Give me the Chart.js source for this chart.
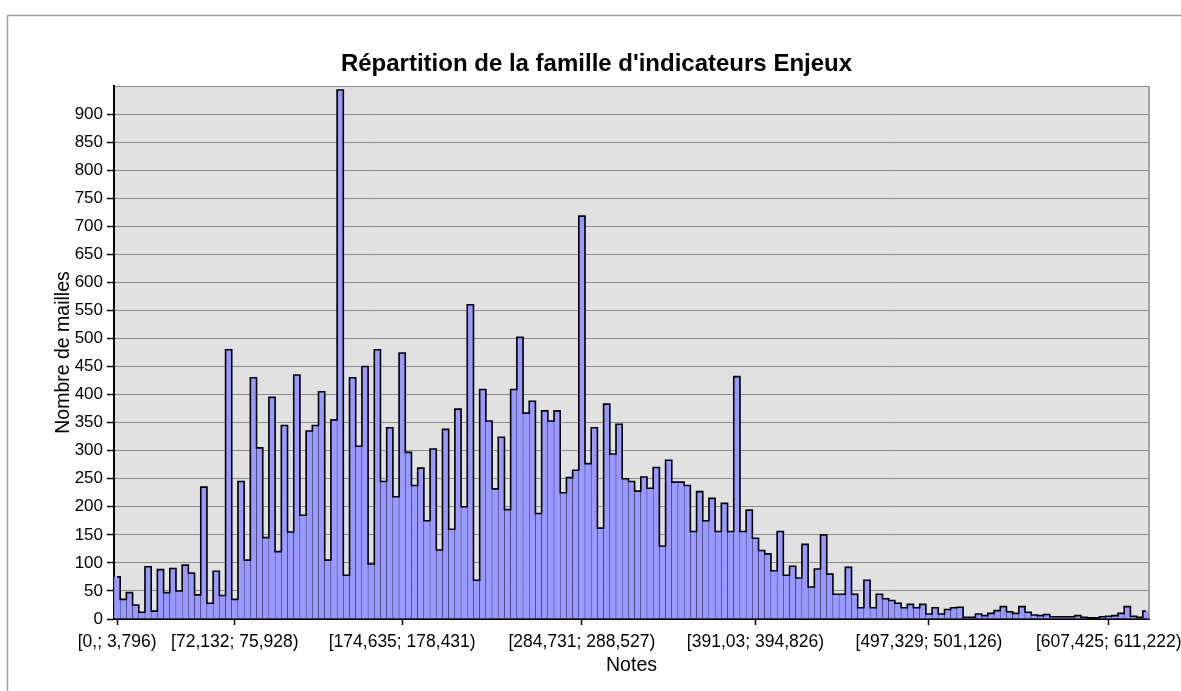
<!DOCTYPE html>
<html lang="fr">
<head>
<meta charset="utf-8">
<title>Répartition de la famille d'indicateurs Enjeux</title>
<script src="https://cdn.jsdelivr.net/npm/chart.js@4/dist/chart.umd.min.js"></script>
<style>
  html, body { margin: 0; padding: 0; background: #fff; }
  #wrap { width: 1181px; height: 691px; }
</style>
</head>
<body>
<div id="wrap"><canvas id="histo" width="1181" height="691"></canvas></div>
<script>
// --- histogramme : nombre de mailles par classe de notes ---

// 167 classes de largeur ~3,796 ; seules quelques étiquettes sont affichées
const tickIndex = [0, 19, 46, 75, 103, 131, 160];
const tickLabels = [
    '[0,; 3,796)', '[72,132; 75,928)', '[174,635; 178,431)', '[284,731; 288,527)',
    '[391,03; 394,826)', '[497,329; 501,126)', '[607,425; 611,222)'
];

// effectifs (une valeur par classe)
const counts = [
    75, 35, 47, 25, 12, 93, 14, 88, 47, 90,
    50, 96, 82, 43, 235, 28, 85, 42, 480, 35,
    245, 105, 430, 305, 145, 395, 120, 345, 155, 435,
    185, 335, 345, 405, 105, 355, 943, 78, 430, 308,
    450, 98, 480, 245, 341, 218, 474, 297, 238, 269,
    175, 303, 123, 338, 160, 374, 200, 560, 69, 409,
    353, 232, 324, 195, 409, 502, 367, 388, 188, 371,
    353, 371, 225, 252, 265, 718, 277, 341, 162, 383,
    294, 347, 250, 245, 228, 253, 233, 270, 130, 283,
    244, 244, 238, 156, 227, 175, 215, 156, 206, 156,
    432, 156, 194, 144, 122, 116, 86, 156, 78, 94,
    73, 133, 57, 89, 150, 80, 44, 44, 92, 44,
    20, 69, 20, 44, 36, 33, 28, 20, 26, 20,
    26, 9, 20, 9, 17, 20, 21, 3, 3, 9,
    6, 10, 15, 22, 13, 10, 22, 12, 7, 6,
    8, 4, 4, 4, 4, 6, 3, 2, 2, 4,
    5, 6, 10, 22, 5, 3, 14
];

// étiquettes de l'axe x : vide sauf aux classes repérées
const categories = counts.map((_, i) => {
    const k = tickIndex.indexOf(i);
    return k >= 0 ? tickLabels[k] : '';
});

Chart.defaults.font.family = '"Liberation Sans", Arial, sans-serif';
Chart.defaults.color = '#000';

// fond gris de la zone de tracé + cadre du graphique
const fondPlot = {
    id: 'fondPlot',
    beforeDraw(chart) {
        const { ctx, chartArea: a } = chart;
        ctx.save();
        ctx.fillStyle = '#fff';
        ctx.fillRect(0, 0, chart.width, chart.height);
        ctx.strokeStyle = '#a0a0a0';
        ctx.lineWidth = 1.5;
        ctx.beginPath();
        ctx.moveTo(7.5, chart.height);
        ctx.lineTo(7.5, 15.5);
        ctx.lineTo(chart.width, 15.5);
        ctx.stroke();
        ctx.fillStyle = '#e1e1e1';
        ctx.fillRect(a.left, a.top, a.right - a.left, a.bottom - a.top);
        ctx.restore();
    },
    afterDraw(chart) {
        const { ctx, chartArea: a } = chart;
        ctx.save();
        ctx.strokeStyle = '#8a8a8a';
        ctx.lineWidth = 1.5;
        ctx.beginPath();
        ctx.moveTo(a.right, a.top);
        ctx.lineTo(a.right, a.bottom);
        ctx.stroke();
        ctx.restore();
    }
};

const ctx = document.getElementById('histo').getContext('2d');
new Chart(ctx, {
    type: 'bar',
    data: {
        labels: categories,
        datasets: [
            {
                // contour en escalier des barres
                type: 'line',
                data: counts,
                stepped: 'middle',
                borderColor: '#000',
                borderWidth: 1.6,
                pointRadius: 0,
                fill: false,
                order: 0
            },
            {
                type: 'bar',
                label: 'Nombre de mailles',
                data: counts,
                backgroundColor: '#9999ff',
                borderColor: '#1c1c3a',
                borderWidth: { left: 0.5, right: 0.5, top: 0, bottom: 0 },
                barPercentage: 1,
                categoryPercentage: 1,
                order: 1
            }
        ]
    },
    options: {
        responsive: false,
        animation: false,
        devicePixelRatio: 1,
        layout: { padding: { left: 12, right: 0, top: 0, bottom: 0 } },
        plugins: {
            legend: { display: false },
            tooltip: { enabled: false },
            title: {
                display: true,
                text: "Répartition de la famille d'indicateurs Enjeux",
                color: '#000',
                font: { size: 24, weight: 'bold' },
                padding: { top: 50, bottom: 7.2 }
            }
        },
        scales: {
            x: {
                offset: true,
                grid: {
                    offset: false,
                    drawOnChartArea: false,
                    tickLength: 6,
                    tickWidth: 1.5,
                    tickColor: c => tickIndex.includes(c.index) ? '#000' : 'rgba(0,0,0,0)'
                },
                border: { color: '#000', width: 2 },
                ticks: {
                    autoSkip: false, maxRotation: 0, minRotation: 0,
                    padding: 7, color: '#000', font: { size: 17.5 }
                },
                title: {
                    display: true, text: 'Notes', color: '#000',
                    font: { size: 19.5 }, padding: { top: 0, bottom: 14 }
                },
                afterFit: s => { s.height = 72; }
            },
            y: {
                min: 0,
                max: 950,
                grid: {
                    color: '#8a8a8a',
                    lineWidth: 1,
                    tickLength: 7,
                    tickWidth: 1.5,
                    tickColor: c => (c.tick && c.tick.value === 950) ? 'rgba(0,0,0,0)' : '#000'
                },
                border: { color: '#000', width: 2 },
                ticks: {
                    stepSize: 50, padding: 4, color: '#000', font: { size: 17 },
                    callback: v => v === 950 ? '' : v
                },
                title: {
                    display: true, text: 'Nombre de mailles', color: '#000',
                    font: { size: 19.5 }, padding: { top: 40, bottom: 0 }
                },
                afterFit: s => { s.width = 102; }
            },
            // marge droite vide (le cadre de la zone de tracé s'arrête avant le bord)
            y2: {
                type: 'linear',
                position: 'right',
                display: true,
                grid: { display: false },
                border: { display: false },
                ticks: { display: false },
                afterFit: s => { s.width = 32; }
            }
        }
    },
    plugins: [fondPlot]
});
</script>
</body>
</html>
